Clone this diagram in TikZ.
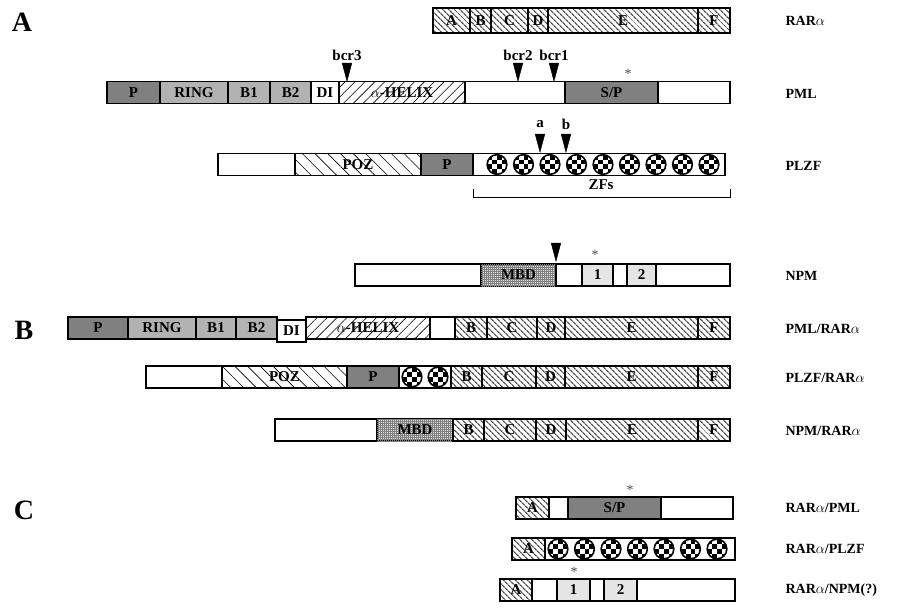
\documentclass[tikz,border=0pt]{standalone}
\usepackage{fontspec}
\setmainfont{Liberation Serif}
\usetikzlibrary{arrows.meta,patterns.meta}

\tikzset{
  dom/.style={draw, line width=1.2pt, inner sep=0pt, outer sep=0pt,
    minimum height=22pt, font=\fontsize{15}{15}\selectfont\bfseries},
  tall/.style={minimum height=25pt},
  rar/.style={pattern={Lines[angle=-45,distance=4pt,line width=1.3pt]}, pattern color=black!70},
  poz/.style={pattern={Lines[angle=-45,distance=9pt,line width=0.6pt]}},
  helix/.style={pattern={Lines[angle=45,distance=7pt,line width=0.6pt]}},
  dark/.style={fill=black!50},
  light/.style={fill=black!30},
  pale/.style={fill=black!10},
  mbd/.style={fill=black!12, postaction={pattern={Hatch[distance=2pt,line width=0.35pt]}, pattern color=black!50}},
  plain/.style={},
  brk/.style={-{Triangle[length=19pt,width=10pt]}, line width=0.4pt},
  tag/.style={font=\fontsize{15}{15}\selectfont\bfseries},
  protname/.style={anchor=west, font=\fontsize{14}{14}\selectfont\bfseries},
  biglet/.style={font=\fontsize{28}{28}\selectfont\bfseries},
  ast/.style={font=\fontsize{14}{14}\selectfont, text=black!70},
}

% domain box: name, left, right, y centre, style, text
\newcommand{\dombox}[6]{%
  \pgfmathsetmacro\domw{#3-#2}%
  \pgfmathsetmacro\domx{(#2+#3)/2}%
  \node[dom,#5,minimum width=\domw pt] (#1) at (\domx,#4) {#6};}

% zinc finger at x, y
\newcommand{\zfing}[2]{%
  \begin{scope}[shift={(#1,#2)}]
    \begin{scope}
      \clip (0,0) circle (9.8);
      \fill[white] (0,0) circle (9.8);
      \foreach \a/\b in {-2/-2,0/-2,-1/-1,1/-1,-2/0,0/0,-1/1,1/1}
        \fill (\a*4.9,\b*4.9) rectangle ++(4.9,4.9);
    \end{scope}
    \draw[line width=1.6pt] (0,0) circle (9.8);
  \end{scope}}

\begin{document}
\begin{tikzpicture}[x=1pt,y=-1pt]
  \useasboundingbox (0,0) rectangle (898,615);

  % protein names
  \node[protname] (nRAR) at (782,20.5) {RAR$\alpha$};
  \node[protname] (nPML) at (782,94) {PML};
  \node[protname] (nPLZF) at (782,166) {PLZF};
  \node[protname] (nNPM) at (782,276) {NPM};
  \node[protname] (nPR) at (782,329) {PML/RAR$\alpha$};
  \node[protname] (nZR) at (782,378) {PLZF/RAR$\alpha$};
  \node[protname] (nNR) at (782,431) {NPM/RAR$\alpha$};
  \node[protname] (nRP) at (782,508) {RAR$\alpha$/PML};
  \node[protname] (nRZ) at (782,549) {RAR$\alpha$/PLZF};
  \node[protname] (nRN) at (782,590) {RAR$\alpha$/NPM(?)};

  % ---------- A ----------
  \node[biglet] (labA) at (22,22) {A};

  % RARa
  \foreach \n/\l/\r in {A/433/470,B/470/491,C/491/528,D/528/548,E/548/698,F/698/730}
    \dombox{r\n}{\l}{\r}{20.5}{rar,tall}{\n};

  % PML
  \dombox{pP}{107}{160}{92.5}{dark}{P}
  \dombox{pRING}{160}{228}{92.5}{light}{RING}
  \dombox{pB1}{228}{270}{92.5}{light}{B1}
  \dombox{pB2}{270}{311}{92.5}{light}{B2}
  \dombox{pDI}{311}{339}{92.5}{plain}{DI}
  \dombox{pHX}{339}{465}{92.5}{helix}{$\alpha$-HELIX}
  \dombox{pW1}{465}{565}{92.5}{plain}{}
  \dombox{pSP}{565}{658}{92.5}{dark}{S/P}
  \dombox{pW2}{658}{730}{92.5}{plain}{}
  \node[ast] (astP) at (628,74) {*};

  % breakpoints
  \foreach \b/\x in {bcr3/347,bcr2/518,bcr1/554}{
    \node[tag] (\b) at (\x,55) {\b};
    \coordinate (\b top) at (\x,63);
    \coordinate (\b tip) at (\x,82);
    \draw[brk] (\b top) -- (\b tip);
  }

  % PLZF
  \dombox{zW}{218}{295}{164.5}{plain}{}
  \dombox{zPOZ}{295}{421}{164.5}{poz}{POZ}
  \dombox{zP}{421}{473}{164.5}{dark}{P}
  \dombox{zZF}{473}{725}{164.5}{plain}{}
  \foreach \k in {0,...,8}{\zfing{497+26.5*\k}{164.5}}
  \foreach \b/\x in {a/540,b/566}{
    \node[tag] (\b) at (\x,124) {\b};
    \coordinate (\b top) at (\x,134);
    \coordinate (\b tip) at (\x,153);
    \draw[brk] (\b top) -- (\b tip);
  }

  % zinc finger bracket
  \coordinate (zfl) at (473,189);
  \coordinate (zfr) at (730,189);
  \draw[line width=0.8pt] (zfl) -- ++(0,8) -| (zfr);
  \node[tag] (zfs) at (601,185) {ZFs};

  % NPM
  \dombox{nW1}{355}{481}{275}{plain}{}
  \dombox{nMBD}{481}{556}{275}{mbd}{MBD}
  \dombox{nW2}{556}{582}{275}{plain}{}
  \dombox{n1}{582}{613}{275}{pale}{1}
  \dombox{nW3}{613}{627}{275}{plain}{}
  \dombox{n2}{627}{656}{275}{pale}{2}
  \dombox{nW4}{656}{730}{275}{plain}{}
  \node[ast] (astN) at (595,255) {*};
  \coordinate (mtop) at (556,243);
  \coordinate (mtip) at (556,262);
  \draw[brk] (mtop) -- (mtip);

  % ---------- B ----------
  \node[biglet] (labB) at (24,330) {B};

  % PML/RARa
  \dombox{fP}{68}{128}{328}{dark}{P}
  \dombox{fRING}{128}{196}{328}{light}{RING}
  \dombox{fB1}{196}{236}{328}{light}{B1}
  \dombox{fB2}{236}{277}{328}{light}{B2}
  \dombox{fDI}{277}{306}{331}{plain}{DI}
  \dombox{fHX}{306}{430}{328}{helix}{$\alpha$-HELIX}
  \dombox{fW}{430}{455}{328}{plain}{}
  \foreach \n/\l/\r in {B/455/487,C/487/537,D/537/565,E/565/698,F/698/730}
    \dombox{f\n}{\l}{\r}{328}{rar}{\n};

  % PLZF/RARa
  \dombox{gW}{146}{222}{377}{plain}{}
  \dombox{gPOZ}{222}{347}{377}{poz}{POZ}
  \dombox{gP}{347}{399}{377}{dark}{P}
  \dombox{gZF}{399}{451}{377}{plain}{}
  \zfing{412}{377}
  \zfing{438}{377}
  \foreach \n/\l/\r in {B/451/482,C/482/536,D/536/565,E/565/698,F/698/730}
    \dombox{g\n}{\l}{\r}{377}{rar}{\n};

  % NPM/RARa
  \dombox{hW}{275}{377}{430}{plain}{}
  \dombox{hMBD}{377}{453}{430}{mbd}{MBD}
  \foreach \n/\l/\r in {B/453/484,C/484/536,D/536/566,E/566/698,F/698/730}
    \dombox{h\n}{\l}{\r}{430}{rar}{\n};

  % ---------- C ----------
  \node[biglet] (labC) at (24,510) {C};

  % RARa/PML
  \dombox{cA}{516}{549}{508}{rar}{A}
  \dombox{cW1}{549}{568}{508}{plain}{}
  \dombox{cSP}{568}{661}{508}{dark}{S/P}
  \dombox{cW2}{661}{733}{508}{plain}{}
  \node[ast] (astC) at (630,490) {*};

  % RARa/PLZF
  \dombox{dA}{512}{545}{549}{rar}{A}
  \dombox{dZF}{545}{735}{549}{plain}{}
  \foreach \k in {0,...,6}{\zfing{558+26.5*\k}{549}}

  % RARa/NPM
  \dombox{eA}{500}{532}{590}{rar}{A}
  \dombox{eW1}{532}{557}{590}{plain}{}
  \dombox{e1}{557}{590}{590}{pale}{1}
  \dombox{eW2}{590}{604}{590}{plain}{}
  \dombox{e2}{604}{637}{590}{pale}{2}
  \dombox{eW3}{637}{735}{590}{plain}{}
  \node[ast] (astE) at (574,572) {*};
\end{tikzpicture}
\end{document}
